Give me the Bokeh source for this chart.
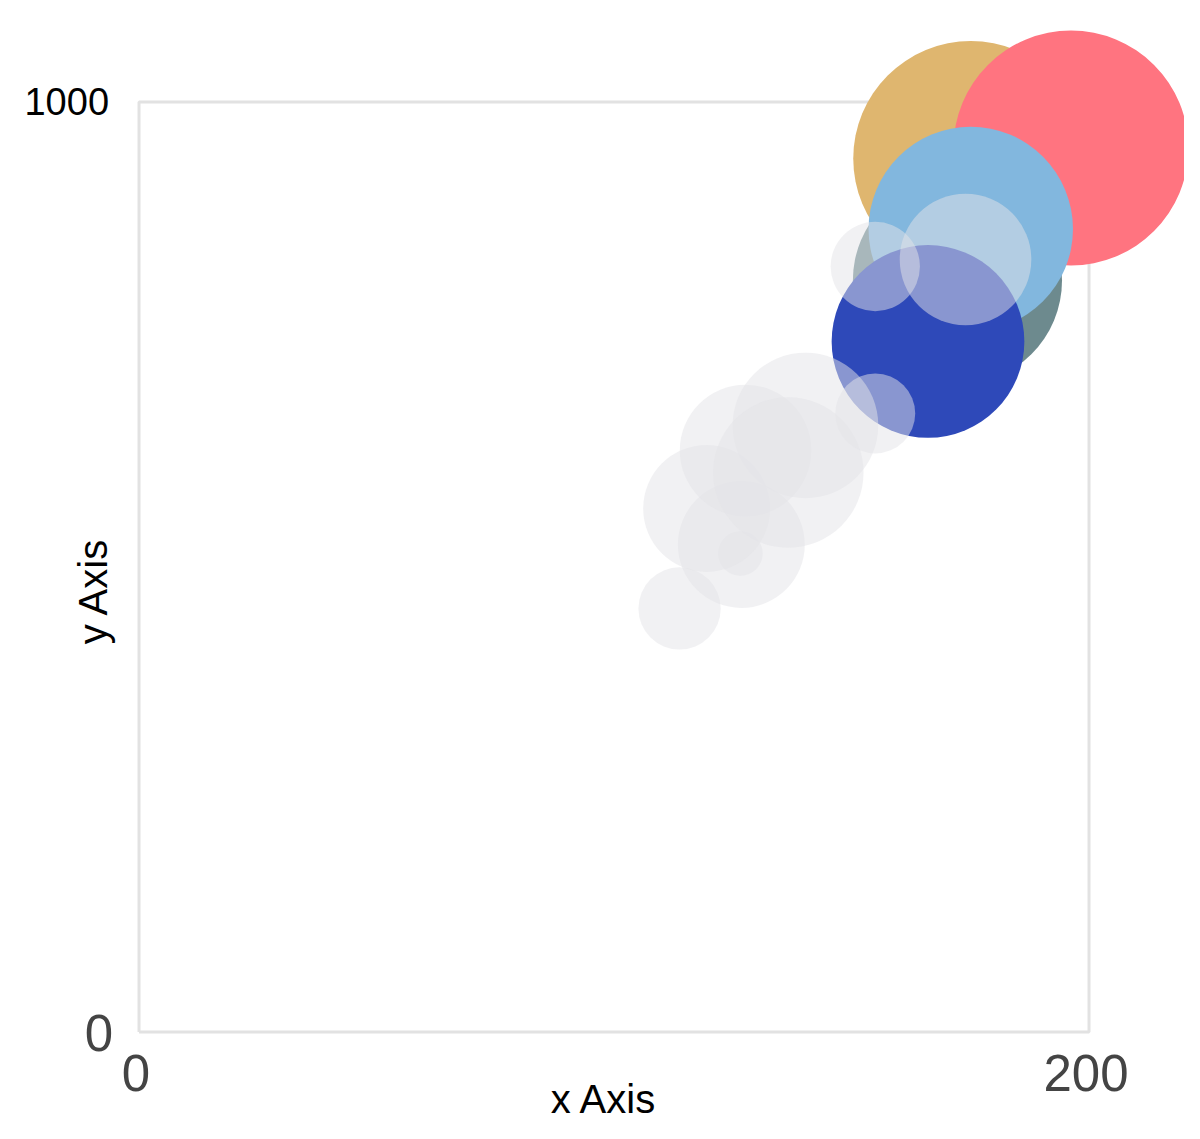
from bokeh.plotting import figure
from bokeh.models import Range1d, ColumnDataSource
from bokeh.core.properties import value
from bokeh.embed import file_html
from bokeh.resources import INLINE

# ---- data ----
x_ticks = [0, 200]
y_ticks = [0, 1000]
x_title = "x Axis"
y_title = "y Axis"

# highlighted bubbles (drawn first, bottom to top)
hi_x = [175.1, 196.2, 172.3, 175.1, 166.1]
hi_y = [939.2, 950.5, 808.1, 863.4, 742.5]
hi_z = [100, 100, 89, 87, 82]
hi_colors = ["#DFB66F", "#FF7480", "#6D8A8E", "#82B7DE", "#2E49B9"]

# muted bubbles
mu_x = [113.8, 126.8, 126.6, 119.5, 127.7, 140.3, 136.7, 155.0, 155.0, 174.0]
mu_y = [455.4, 524.2, 514.5, 562.9, 625.3, 652.2, 601.6, 665.1, 823.1, 830.6]
mu_z = [35, 54, 19, 54, 56, 62, 64, 34, 38, 56]

# ---- layout ----
W, H = 1184, 1123
PX_PER_Z = 2.35  # bubble diameter in px per z unit

p = figure(width=W, height=H, output_backend="svg", toolbar_location=None,
           x_axis_type=None, y_axis_type=None, min_border=0,
           x_range=Range1d(-29.16, 220.1), y_range=Range1d(-98.4, 1109.1))
p.outline_line_color = None
p.xgrid.visible = False
p.ygrid.visible = False
p.background_fill_color = "white"
p.border_fill_color = "white"

# plot box
x0, x1 = min(x_ticks), max(x_ticks)
y0, y1 = min(y_ticks), max(y_ticks)
p.line([x0, x1, x1, x0, x0], [y0, y0, y1, y1, y0], line_color="#E2E2E2", line_width=3)

hs = ColumnDataSource(dict(x=hi_x, y=hi_y, s=[z * PX_PER_Z for z in hi_z], c=hi_colors))
p.scatter("x", "y", size="s", fill_color="c", line_color=None, source=hs, marker="circle")

ms = ColumnDataSource(dict(x=mu_x, y=mu_y, s=[z * PX_PER_Z for z in mu_z]))
p.scatter("x", "y", size="s", fill_color="#E3E3E8", fill_alpha=0.5, line_color=None,
          source=ms, marker="circle")

font = value("Liberation Sans")

# x tick labels
p.text(x=x_ticks, y=[y0, y0], text=[str(t) for t in x_ticks], text_font=font,
       text_font_size="51px", text_color="#444444", text_align="center",
       text_baseline="middle", x_offset=-3, y_offset=41)
# y tick labels
p.text(x=[x0], y=[y_ticks[0]], text=[str(y_ticks[0])], text_font=font,
       text_font_size="51px", text_color="#444444", text_align="right",
       text_baseline="middle", x_offset=-26, y_offset=1)
p.text(x=[x0], y=[y_ticks[1]], text=[str(y_ticks[1])], text_font=font,
       text_font_size="38px", text_color="#000000", text_align="right",
       text_baseline="middle", x_offset=-30, y_offset=0)

# axis titles
p.text(x=[(x0 + x1) / 2], y=[y0], text=[x_title], text_font=font,
       text_font_size="40px", text_color="#000000", text_align="center",
       text_baseline="middle", x_offset=-10, y_offset=67)
p.text(x=[x0], y=[(y0 + y1) / 2], text=[y_title], text_font=font,
       text_font_size="40px", text_color="#000000", text_align="center",
       text_baseline="middle", angle=1.5708, x_offset=-46, y_offset=24)

open("out.html", "w").write(file_html(p, INLINE))
